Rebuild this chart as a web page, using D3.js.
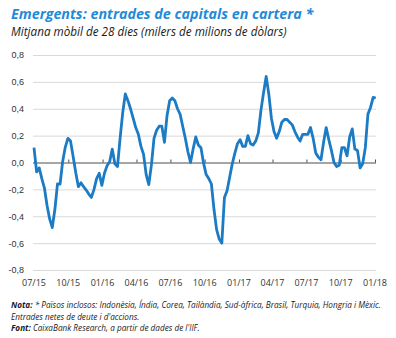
<!DOCTYPE html>
<html>
<head>
<meta charset="utf-8">
<script src="https://cdn.jsdelivr.net/npm/d3@7"></script>
<style>
   body { margin: 0; background: #fff; }
   svg { display: block; font-family: 'Open Sans', 'Noto Sans', sans-serif; }
</style>
</head>
<body>
<script>
   // data: weekly values of the 28-day moving average (bn dollars), starting 1 July 2015
   let startDate = '2015-07-01';
   let values = [
      0.11, -0.07, -0.04, -0.12, -0.19, -0.32, -0.42, -0.485, -0.35, -0.16,
      -0.16, 0.01, 0.115, 0.18, 0.16, 0.045, -0.075, -0.18, -0.15, -0.18,
      -0.205, -0.235, -0.26, -0.2, -0.12, -0.08, -0.17, -0.08, -0.025, 0.005,
      0.10, -0.01, -0.03, 0.18, 0.37, 0.51, 0.46, 0.40, 0.33, 0.26,
      0.21, 0.12, 0.06, -0.09, -0.165, -0.02, 0.18, 0.24, 0.27, 0.27,
      0.15, 0.35, 0.46, 0.48, 0.46, 0.40, 0.36, 0.27, 0.18, 0.08,
      0.00, 0.10, 0.19, 0.13, 0.11, -0.005, -0.09, -0.12, -0.16, -0.35,
      -0.50, -0.57, -0.60, -0.26, -0.21, -0.11, -0.01, 0.07, 0.14, 0.17,
      0.12, 0.12, 0.20, 0.14, 0.13, 0.16, 0.22, 0.39, 0.52, 0.64,
      0.51, 0.33, 0.23, 0.18, 0.23, 0.30, 0.32, 0.32, 0.30, 0.28,
      0.23, 0.19, 0.16, 0.21, 0.21, 0.21, 0.26, 0.18, 0.07, 0.04,
      0.02, 0.15, 0.26, 0.17, 0.09, 0.00, -0.03, -0.02, 0.11, 0.11,
      0.05, 0.19, 0.25, 0.10, 0.09, -0.04, -0.01, 0.11, 0.36, 0.41,
      0.485, 0.48
   ];
   let yTicks = [-0.8, -0.6, -0.4, -0.2, 0, 0.2, 0.4, 0.6, 0.8];
   let xTickDates = ['2015-07-01', '2015-10-01', '2016-01-01', '2016-04-01', '2016-07-01',
                     '2016-10-01', '2017-01-01', '2017-04-01', '2017-07-01', '2017-10-01', '2018-01-01'];

   let title = 'Emergents: entrades de capitals en cartera *';
   let subtitle = 'Mitjana mòbil de 28 dies (milers de milions de dòlars)';
   let noteLabel = 'Nota:';
   let noteLine1 = ' * Països inclosos: Indonèsia, Índia, Corea, Tailàndia, Sud-àfrica, Brasil, Turquia, Hongria i Mèxic.';
   let noteLine2 = 'Entrades netes de deute i d\'accions.';
   let sourceLabel = 'Font:';
   let sourceText = ' CaixaBank Research, a partir de dades de l\'IIF.';

   // canvas
   let width = 396;
   let height = 338;
   let plotLeft = 34;
   let plotRight = 375;
   let plotTop = 55;
   let plotBottom = 270;
   let svg = d3.select('body').append('svg')
      .attr('width', width)
      .attr('height', height);

   let parse = d3.timeParse('%Y-%m-%d');
   let start = parse(startDate);
   let dataset = values.map((v, i) => [d3.timeDay.offset(start, i * 7), v]);
   let tickDates = xTickDates.map(parse);

   // scales
   let xScale = d3.scaleTime()
      .domain([tickDates[0], tickDates[tickDates.length - 1]])
      .range([plotLeft, plotRight]);
   let yScale = d3.scaleLinear()
      .domain([-0.8, 0.8])
      .range([plotBottom, plotTop]);

   // gridlines + y labels
   let yAxis = d3.axisLeft(yScale)
      .tickValues(yTicks)
      .tickSize(-(plotRight - plotLeft + 2))
      .tickPadding(9)
      .tickFormat((d) => d3.format('.1f')(d).replace('.', ',').replace('−', '-'));
   let gy = svg.append('g')
      .attr('transform', 'translate(' + (plotLeft - 1) + ', 0)')
      .call(yAxis);
   gy.select('.domain').remove();
   gy.selectAll('line')
      .attr('stroke', (d) => d === 0 ? '#4d4d4d' : '#d9d9d9');
   gy.selectAll('text')
      .attr('fill', '#333')
      .style('font-size', '9px');

   // tick marks on the zero line
   let xAxis = d3.axisTop(xScale)
      .tickValues(tickDates)
      .tickSize(3)
      .tickFormat('');
   let gx = svg.append('g')
      .attr('transform', 'translate(0, ' + yScale(0) + ')')
      .call(xAxis);
   gx.select('.domain').remove();
   gx.selectAll('line').attr('stroke', '#4d4d4d');

   // x labels at the bottom
   svg.append('g')
      .selectAll('text')
      .data(tickDates)
      .enter()
      .append('text')
      .attr('x', (d) => xScale(d))
      .attr('y', 286)
      .attr('text-anchor', 'middle')
      .attr('fill', '#333')
      .style('font-size', '9px')
      .text((d) => d3.timeFormat('%m/%y')(d));

   // line
   let line = d3.line()
      .x((d) => xScale(d[0]))
      .y((d) => yScale(d[1]));
   svg.append('path')
      .datum(dataset)
      .attr('d', line)
      .attr('fill', 'none')
      .attr('stroke', '#1b7bc4')
      .attr('stroke-width', 2.8)
      .attr('stroke-linejoin', 'round');

   // titles
   svg.append('text')
      .attr('x', 11)
      .attr('y', 19)
      .attr('fill', '#1f8bd8')
      .style('font-size', '14.3px')
      .style('font-weight', 'bold')
      .style('font-style', 'italic')
      .text(title);
   svg.append('text')
      .attr('x', 11)
      .attr('y', 36)
      .attr('fill', '#1a1a1a')
      .style('font-size', '11.7px')
      .style('font-style', 'italic')
      .text(subtitle);

   // notes
   let note1 = svg.append('text')
      .attr('x', 11)
      .attr('y', 308)
      .attr('fill', '#1a1a1a')
      .style('font-size', '8.2px')
      .style('font-style', 'italic');
   note1.append('tspan').style('font-weight', 'bold').text(noteLabel);
   note1.append('tspan').text(noteLine1);
   svg.append('text')
      .attr('x', 11)
      .attr('y', 319.5)
      .attr('fill', '#1a1a1a')
      .style('font-size', '8.2px')
      .style('font-style', 'italic')
      .text(noteLine2);
   let note3 = svg.append('text')
      .attr('x', 11)
      .attr('y', 331)
      .attr('fill', '#1a1a1a')
      .style('font-size', '8.2px')
      .style('font-style', 'italic');
   note3.append('tspan').style('font-weight', 'bold').text(sourceLabel);
   note3.append('tspan').text(sourceText);
</script>
</body>
</html>
